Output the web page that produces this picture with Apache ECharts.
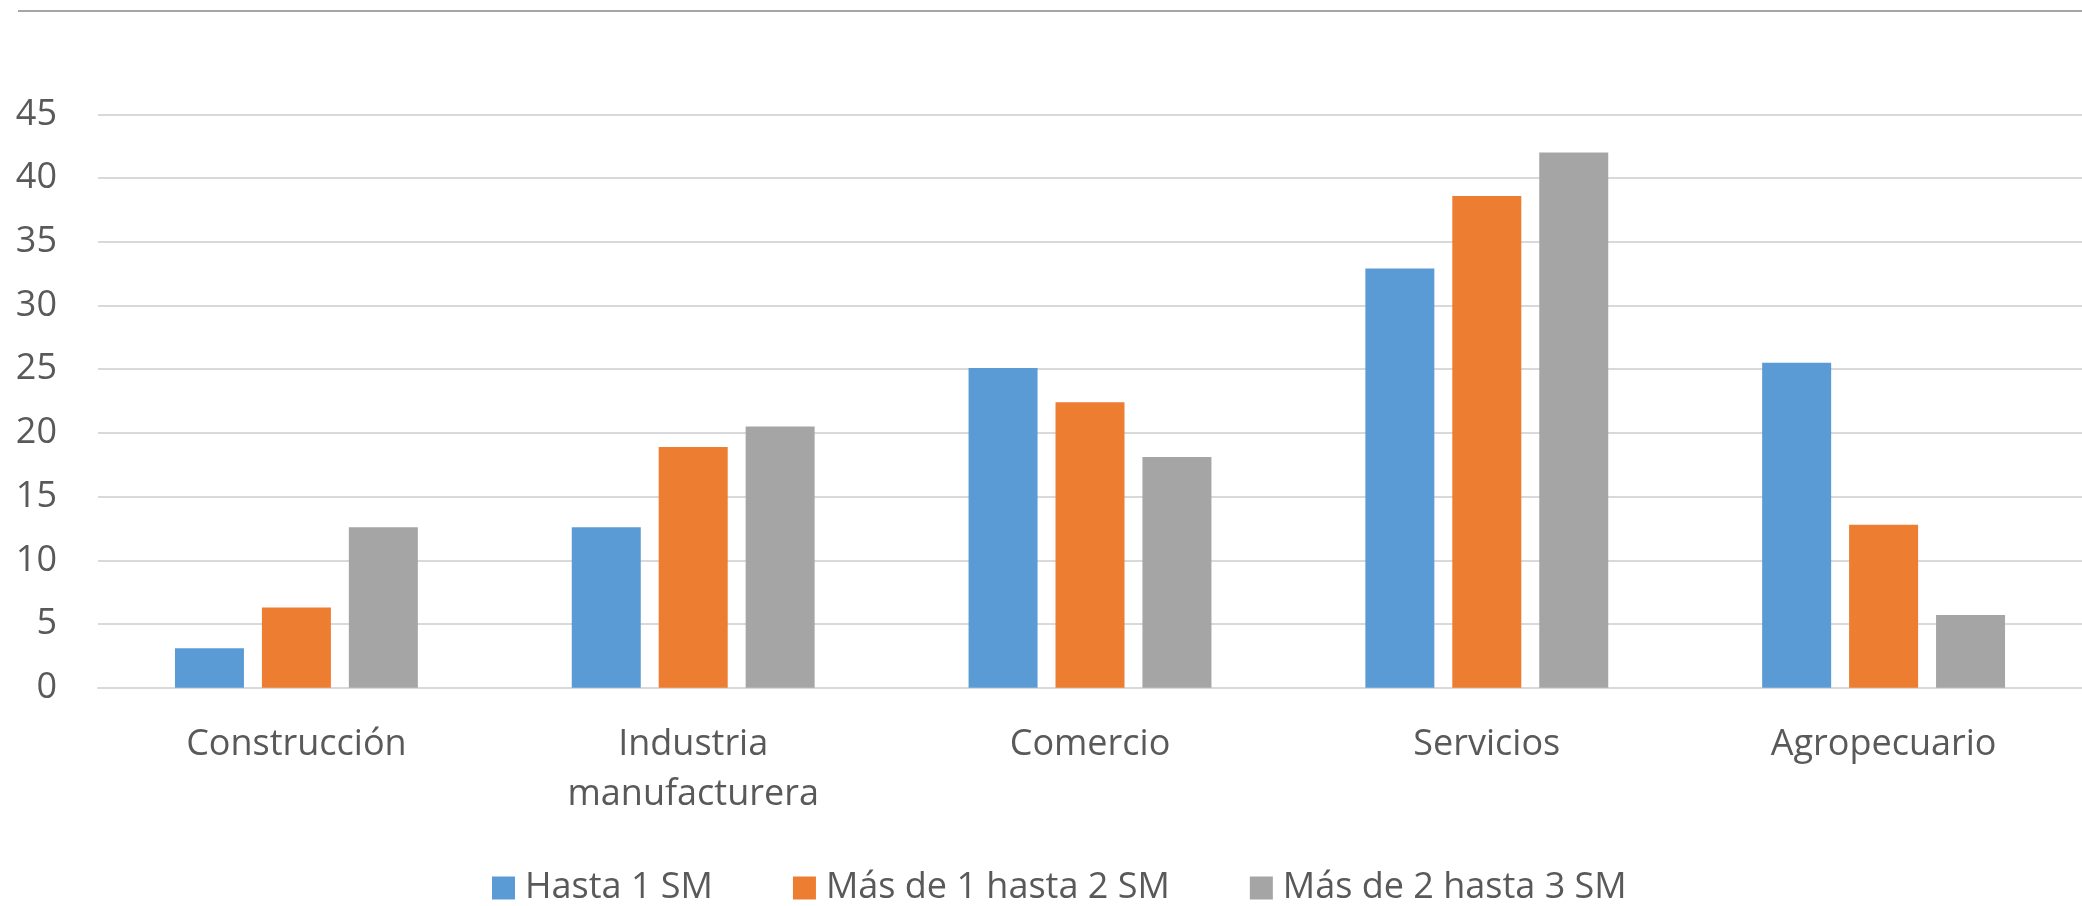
<!DOCTYPE html>
<html>
<head>
<meta charset="utf-8">
<script src="https://cdn.jsdelivr.net/npm/echarts@6/dist/echarts.min.js"></script>
<style>
html,body{margin:0;padding:0;background:#fff;}
#chart{width:2082px;height:906px;}
</style>
</head>
<body>
<div id="chart"></div>
<script>
const categories = ['Construcción', 'Industria\nmanufacturera', 'Comercio', 'Servicios', 'Agropecuario'];
const seriesNames = ['Hasta 1 SM', 'Más de 1 hasta 2 SM', 'Más de 2 hasta 3 SM'];
const hasta1 = [3.1, 12.6, 25.1, 32.9, 25.5];
const de1a2 = [6.3, 18.9, 22.4, 38.6, 12.8];
const de2a3 = [12.6, 20.5, 18.1, 42.0, 5.7];
const colors = ['#5b9bd5', '#ed7d31', '#a5a5a5'];

const chart = echarts.init(document.getElementById('chart'), null, {renderer: 'canvas'});
const font = '"Open Sans", "Noto Sans", sans-serif';
const dataSets = [hasta1, de1a2, de2a3];
chart.setOption({
  animation: false,
  textStyle: {fontFamily: font},
  graphic: [{
    type: 'line',
    shape: {x1: 18, y1: 11, x2: 2082, y2: 11},
    style: {stroke: '#a6a6a6', lineWidth: 2}
  }],
  grid: {left: 98, right: 0, top: 114.4, bottom: 218.3, containLabel: false},
  legend: {
    data: seriesNames,
    left: 487,
    top: 865,
    icon: 'rect',
    itemWidth: 23,
    itemHeight: 23,
    itemGap: 80,
    textStyle: {fontSize: 36, color: '#595959', fontFamily: font, padding: [0, 0, 0, 5]}
  },
  xAxis: {
    type: 'category',
    data: categories,
    axisLine: {lineStyle: {color: '#d9d9d9', width: 2}},
    axisTick: {show: false},
    axisLabel: {fontSize: 36, color: '#595959', fontFamily: font, margin: 32, lineHeight: 50, interval: 0}
  },
  yAxis: {
    type: 'value',
    min: 0,
    max: 45,
    interval: 5,
    axisLine: {show: false},
    axisTick: {show: false},
    splitLine: {lineStyle: {color: '#d9d9d9', width: 2}},
    axisLabel: {fontSize: 36, color: '#595959', fontFamily: font, margin: 41}
  },
  series: seriesNames.map((n, i) => ({
    name: n,
    type: 'bar',
    data: dataSets[i],
    barWidth: 69,
    barGap: '26%',
    itemStyle: {color: colors[i]}
  }))
});
</script>
</body>
</html>
